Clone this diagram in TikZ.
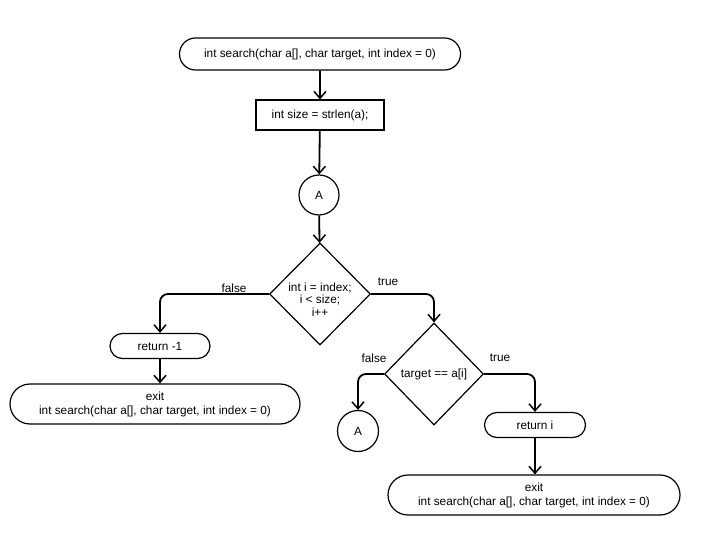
\documentclass[tikz,border=0pt]{standalone}
\usepackage{fontspec}
\setmainfont{Liberation Sans}
\usetikzlibrary{arrows.meta,shapes.geometric,shapes.misc}
\begin{document}
\begin{tikzpicture}[x=1pt,y=-1pt,
  every node/.style={font=\fontsize{11.8}{14}\selectfont, inner sep=0pt},
  term/.style={draw, line width=1.2pt, rounded rectangle, minimum height=#1, align=center},
  term/.default=25pt,
  procbox/.style={draw, line width=1.1pt, rectangle, minimum width=128pt, minimum height=30pt},
  conn/.style={draw, line width=1.2pt, circle, minimum size=40pt},
  dec/.style={draw, line width=1.2pt, diamond, aspect=1, align=center},
  flow/.style={line width=1.8pt, -{Straight Barb[length=7pt,width=12pt,line width=1.5pt]}, rounded corners=8pt},
  lbl/.style={font=\fontsize{11.8}{14}\selectfont}
]
\useasboundingbox (0,0) rectangle (701,534);
\node[term=32pt, minimum width=281pt] (start) at (320,54) {int search(char a[], char target, int index = 0)};
\node[procbox] (size) at (320,115) {int size = strlen(a);};
\node[conn] (A1) at (319,195) {A};
\node[dec, minimum width=101pt, minimum height=102pt] (d1) at (320,294) {\smash{\makebox[0pt]{\raisebox{-10pt}{\begin{tabular}{@{}c@{}}int i = index;\\[-1.5pt] i {<} size;\\[-1.5pt] i++\end{tabular}}}}};
\node[term, minimum width=100pt] (ret1) at (160,346) {return -1};
\node[term=40pt, minimum width=290pt] (exit1) at (155,404) {exit\\ int search(char a[], char target, int index = 0)};
\node[dec, minimum width=99pt, minimum height=102pt] (d2) at (434,374) {target == a[i]};
\node[conn, minimum size=41pt] (A2) at (358,431) {A};
\node[term, minimum width=101pt] (ret2) at (535,425) {return i};
\node[term=40pt, minimum width=292pt] (exit2) at (534,495) {exit\\ int search(char a[], char target, int index = 0)};

\draw[flow] (start) -- (size);
\draw[flow] (size) -- (A1);
\draw[flow] (A1) -- (d1);
\draw[flow] (d1.west) -| (ret1.north);
\draw[flow] (d1.east) -| (d2.north);
\draw[flow] (ret1.south) -- (ret1.south |- exit1.north);
\draw[flow] (d2.west) -| (A2.north);
\draw[flow] (d2.east) -| (ret2.north);
\draw[flow] (ret2.south) -- (ret2.south |- exit2.north);

\node[lbl] (lf1) at (234,288) {false};
\node[lbl] (lt1) at (388,282) {true};
\node[lbl] (lf2) at (374,358) {false};
\node[lbl] (lt2) at (500,358) {true};
\end{tikzpicture}
\end{document}
